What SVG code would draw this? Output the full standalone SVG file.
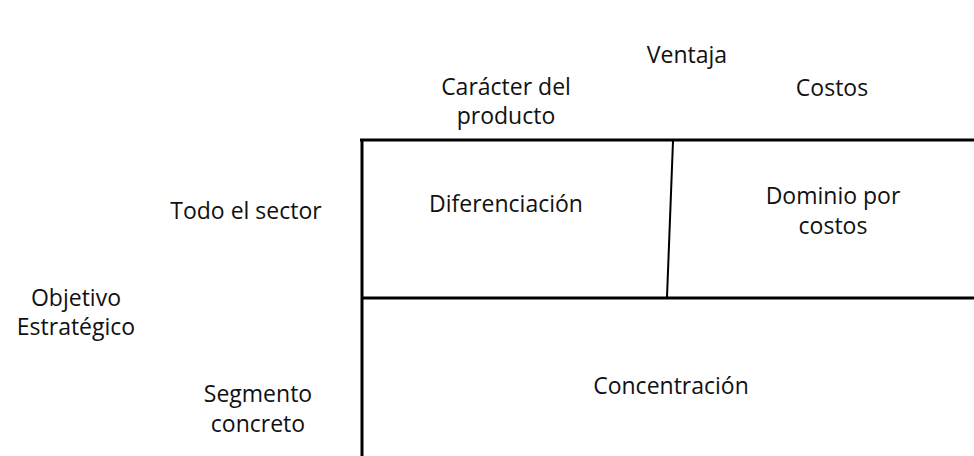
<svg xmlns="http://www.w3.org/2000/svg" width="974" height="456" viewBox="0 0 974 456">
  <style>
    text { font-family: "Open Sans", "Liberation Sans", sans-serif; font-size: 23px; fill: #111; text-anchor: middle; }
    .frame { stroke: #000; stroke-width: 3; fill: none; }
    .div { stroke: #000; stroke-width: 2; fill: none; }
  </style>
  <rect width="974" height="456" fill="#fff"/>
  <g id="connectors">
    <line class="frame" x1="360" y1="140" x2="974" y2="140"/>
    <line class="frame" x1="362" y1="139" x2="362" y2="456"/>
    <line class="frame" x1="362" y1="298" x2="974" y2="298"/>
    <line class="div" x1="673" y1="141" x2="667" y2="297"/>
  </g>
  <g id="ventaja"><text x="687" y="63">Ventaja</text></g>
  <g id="caracter"><text x="506" y="95">Carácter del</text><text x="506" y="124">producto</text></g>
  <g id="costos"><text x="832" y="96">Costos</text></g>
  <g id="todo"><text x="246" y="219">Todo el sector</text></g>
  <g id="objetivo"><text x="76" y="306">Objetivo</text><text x="76" y="335">Estratégico</text></g>
  <g id="segmento"><text x="258" y="402">Segmento</text><text x="258" y="432">concreto</text></g>
  <g id="diferenciacion"><text x="506" y="212">Diferenciación</text></g>
  <g id="dominio"><text x="833" y="204">Dominio por</text><text x="833" y="234">costos</text></g>
  <g id="concentracion"><text x="671" y="394">Concentración</text></g>
</svg>
